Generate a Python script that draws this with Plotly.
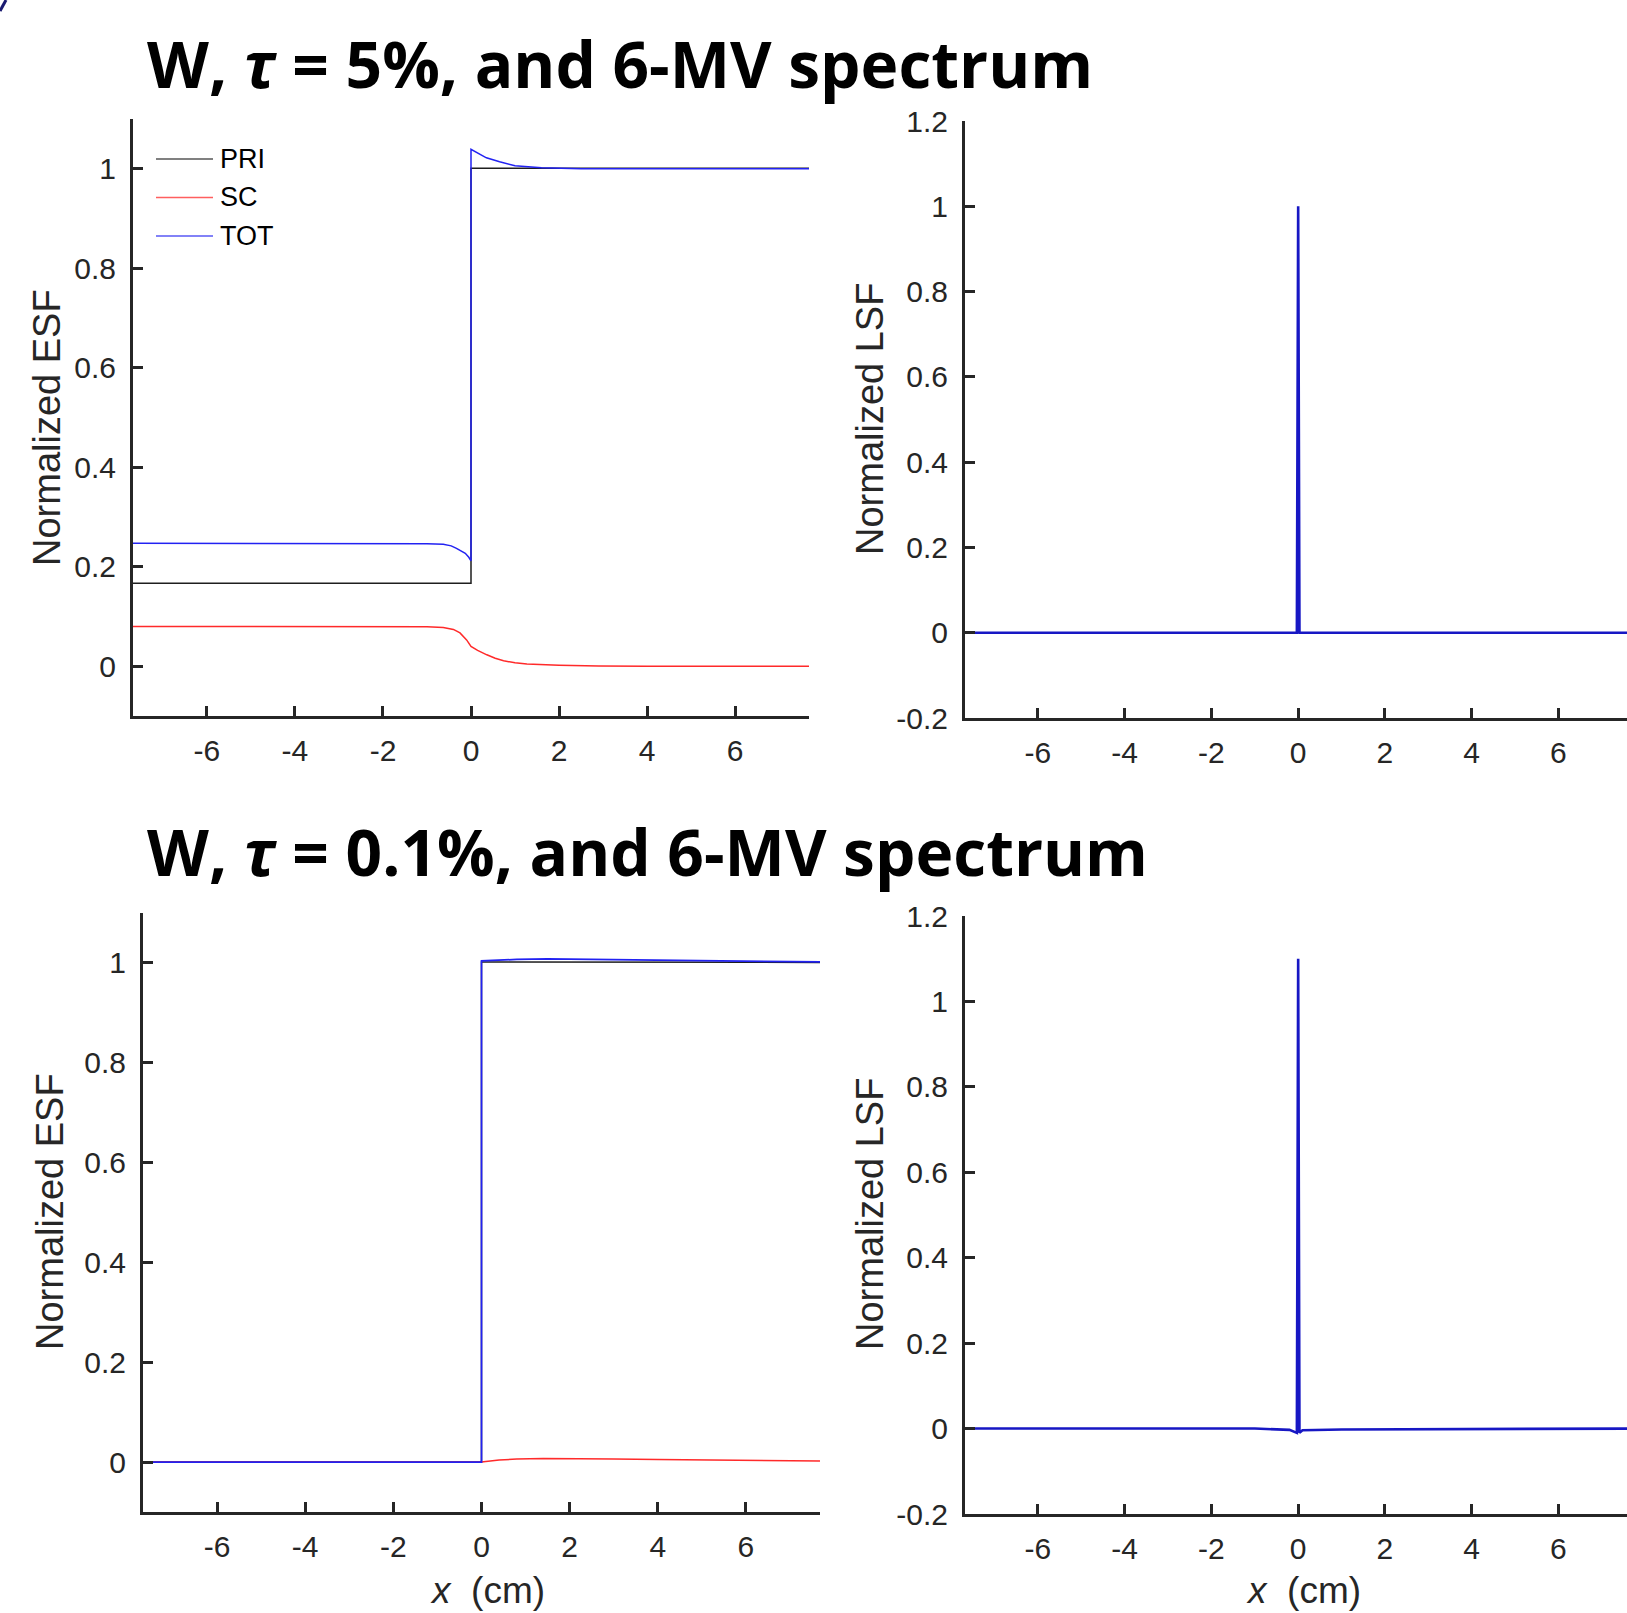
import plotly.graph_objects as go

W, H = 1627, 1613

# ---- ESF, tau = 5 % (x in cm) ----
x_pri_5 = [-7.68, 0.0, 0.0, 7.68]
y_pri_5 = [0.167, 0.167, 1.001, 1.001]

x_sc_5 = [-7.68, -2.5, -1.0, -0.63, -0.4, -0.25, -0.1, 0.0, 0.15, 0.36, 0.55, 0.74, 1.0, 1.27, 1.6, 2.0, 2.9, 4.0, 7.68]
y_sc_5 = [0.080, 0.080, 0.0795, 0.078, 0.074, 0.067, 0.053, 0.040, 0.032, 0.023, 0.016, 0.011, 0.007, 0.0044, 0.003, 0.002, 0.0005, 0.0, 0.0]

x_tot_5 = [-7.68, -2.0, -1.0, -0.63, -0.45, -0.33, -0.2, -0.13, -0.05, 0.0, 0.0, 0.15, 0.35, 0.65, 1.0, 1.6, 2.5, 7.68]
y_tot_5 = [0.247, 0.247, 0.246, 0.245, 0.242, 0.237, 0.231, 0.227, 0.219, 0.212, 1.039, 1.031, 1.022, 1.014, 1.006, 1.002, 1.0, 1.0]

# ---- LSF, tau = 5 % ----
x_lsf_5 = [-7.68, -0.03, 0.0, 0.03, 7.68]
y_lsf_5 = [0.0, 0.0, 1.0, 0.0, 0.0]

# ---- ESF, tau = 0.1 % ----
x_pri_01 = [-7.68, 0.0, 0.0, 7.68]
y_pri_01 = [0.0, 0.0, 1.002, 1.001]

x_sc_01 = [-7.68, 0.0, 0.4, 0.8, 1.4, 2.0, 3.0, 4.0, 5.0, 6.0, 7.68]
y_sc_01 = [0.0, 0.0, 0.004, 0.006, 0.007, 0.007, 0.006, 0.005, 0.004, 0.003, 0.002]

x_tot_01 = [-7.68, 0.0, 0.0, 0.8, 1.5, 2.5, 3.5, 5.0, 6.5, 7.68]
y_tot_01 = [0.0, 0.0, 1.004, 1.007, 1.008, 1.007, 1.006, 1.004, 1.003, 1.002]

# ---- LSF, tau = 0.1 % ----
x_lsf_01 = [-7.68, -1.0, -0.2, -0.03, 0.0, 0.03, 0.1, 1.0, 7.68]
y_lsf_01 = [0.0, 0.0, -0.003, -0.01, 1.1, -0.01, -0.004, -0.002, 0.0]

x_ticks = [-6, -4, -2, 0, 2, 4, 6]
esf_ticks = [0, 0.2, 0.4, 0.6, 0.8, 1]
esf_labels = ["0", "0.2", "0.4", "0.6", "0.8", "1"]
lsf_ticks = [-0.2, 0, 0.2, 0.4, 0.6, 0.8, 1, 1.2]
lsf_labels = ["-0.2", "0", "0.2", "0.4", "0.6", "0.8", "1", "1.2"]

titles = ["W, <i>τ</i> = 5%, and 6-MV spectrum", "W, <i>τ</i> = 0.1%, and 6-MV spectrum"]
legend_names = ["PRI", "SC", "TOT"]

C_PRI = "#1e1e1e"
C_SC = "#ff2a2a"
C_TOT = "#2222f2"
C_LSF = "#1717c4"
AX = "#262626"
FONT = "Liberation Sans, Arial, sans-serif"

fig = go.Figure()

def line(x, y, color, xa, ya, width=1.5):
    fig.add_trace(go.Scatter(x=x, y=y, mode="lines", xaxis=xa, yaxis=ya,
                             line=dict(color=color, width=width), showlegend=False,
                             hoverinfo="skip"))

line(x_pri_5, y_pri_5, C_PRI, "x", "y")
line(x_sc_5, y_sc_5, C_SC, "x", "y")
line(x_tot_5, y_tot_5, C_TOT, "x", "y")
line(x_lsf_5, y_lsf_5, C_LSF, "x2", "y2", width=2.6)
line(x_pri_01, y_pri_01, C_PRI, "x3", "y3")
line(x_sc_01, y_sc_01, C_SC, "x3", "y3")
line(x_tot_01, y_tot_01, C_TOT, "x3", "y3", width=1.7)
line(x_lsf_01, y_lsf_01, C_LSF, "x4", "y4", width=2.6)

def px(v):
    return v / W

def py(v):
    return 1 - v / H

def xaxis(dom, rng, anchor):
    return dict(domain=dom, range=rng, anchor=anchor, tickvals=x_ticks,
                ticktext=[str(t) for t in x_ticks], ticks="inside", ticklen=10,
                tickwidth=3, tickcolor=AX, showline=True, linewidth=3, linecolor=AX,
                showgrid=False, zeroline=False, ticklabelstandoff=6, automargin=False,
                tickfont=dict(family=FONT, size=30, color=AX))

def yaxis(dom, rng, anchor, vals, labels):
    return dict(domain=dom, range=rng, anchor=anchor, tickvals=vals, ticktext=labels,
                ticks="inside", ticklen=10, tickwidth=3, tickcolor=AX, showline=True,
                linewidth=3, linecolor=AX, showgrid=False, zeroline=False,
                ticklabelstandoff=8, automargin=False,
                tickfont=dict(family=FONT, size=30, color=AX))

fig.update_layout(
    width=W, height=H, margin=dict(l=0, r=0, t=0, b=0, autoexpand=False),
    paper_bgcolor="white", plot_bgcolor="white", showlegend=False,
    xaxis=xaxis([px(133), px(809)], [-7.68, 7.68], "y"),
    yaxis=yaxis([py(716), py(119)], [-0.1, 1.1], "x", esf_ticks, esf_labels),
    xaxis2=xaxis([px(965), 1.0], [-7.68, 7.58], "y2"),
    yaxis2=yaxis([py(718), py(121)], [-0.2, 1.2], "x2", lsf_ticks, lsf_labels),
    xaxis3=xaxis([px(143), px(820)], [-7.68, 7.68], "y3"),
    yaxis3=yaxis([py(1512), py(913)], [-0.1, 1.1], "x3", esf_ticks, esf_labels),
    xaxis4=xaxis([px(965), 1.0], [-7.68, 7.58], "y4"),
    yaxis4=yaxis([py(1514), py(916)], [-0.2, 1.2], "x4", lsf_ticks, lsf_labels),
)

ann = []
# panel-row headings
for txt, yc in zip(titles, [64, 851]):
    ann.append(dict(text=txt, x=px(145), y=py(yc), xref="paper", yref="paper",
                    xanchor="left", yanchor="middle", showarrow=False,
                    font=dict(family="Open Sans, sans-serif", size=64, color="black",
                              weight="bold")))

# axis titles
for txt, xc, yc in [("Normalized ESF", 47, 428), ("Normalized LSF", 870, 419),
                    ("Normalized ESF", 50, 1212), ("Normalized LSF", 870, 1214)]:
    ann.append(dict(text=txt, x=px(xc), y=py(yc), xref="paper", yref="paper",
                    xanchor="center", yanchor="middle", textangle=-90, showarrow=False,
                    font=dict(family=FONT, size=38, color=AX)))
for xc in [487, 1303]:
    ann.append(dict(text="<i>x</i>\u00a0\u00a0(cm)", x=px(xc), y=py(1590), xref="paper",
                    yref="paper", xanchor="center", yanchor="middle", showarrow=False,
                    font=dict(family=FONT, size=37, color=AX)))

# legend for the upper ESF panel
shapes = []
for i, (name, col) in enumerate(zip(legend_names, [C_PRI, C_SC, C_TOT])):
    yy = 159 + i * 38.5
    shapes.append(dict(type="line", xref="paper", yref="paper",
                       x0=px(156), x1=px(213), y0=py(yy), y1=py(yy),
                       line=dict(color=col, width=1.6), opacity=0.75))
    ann.append(dict(text=name, x=px(218), y=py(yy), xref="paper", yref="paper",
                    xanchor="left", yanchor="middle", showarrow=False,
                    font=dict(family=FONT, size=27, color="black")))

# small slide-corner stroke
shapes.append(dict(type="line", xref="paper", yref="paper", x0=px(0), y0=py(11),
                   x1=px(6), y1=py(0), line=dict(color="#1a1a70", width=3)))

fig.update_layout(annotations=ann, shapes=shapes)
fig.write_html("out.html")
